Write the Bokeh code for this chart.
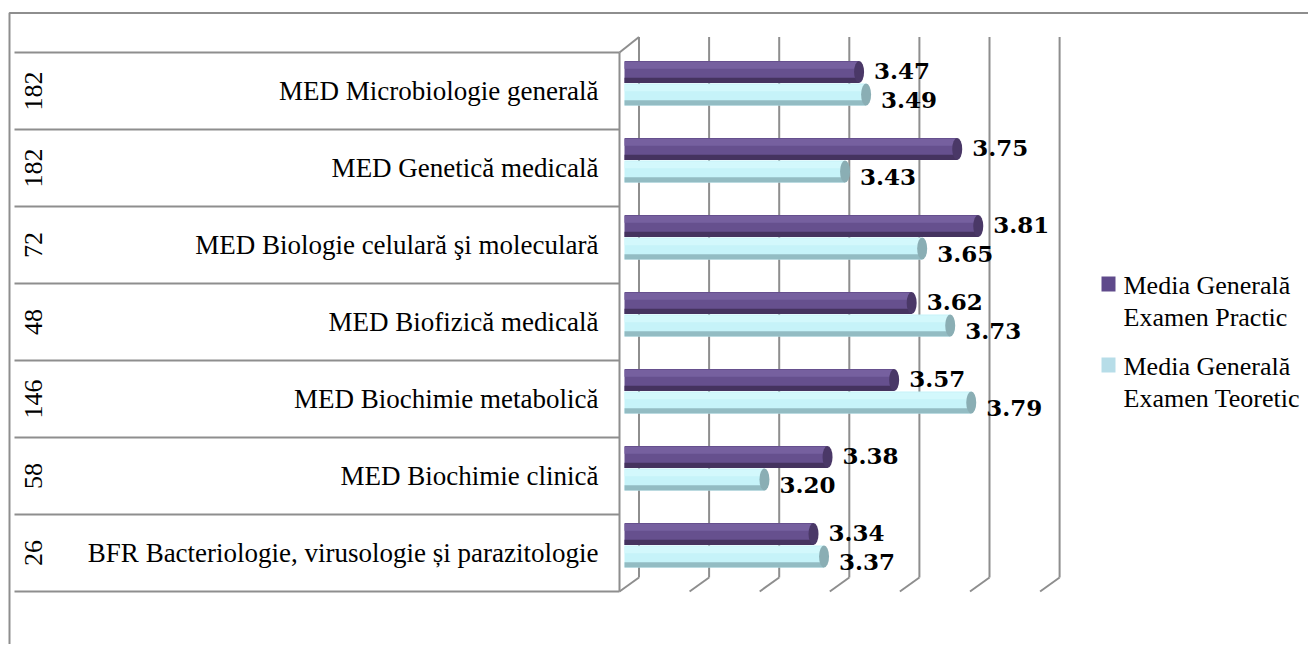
from bokeh.plotting import figure
from bokeh.models import Range1d
from bokeh.core.properties import value
from bokeh.embed import file_html
from bokeh.resources import INLINE

# ---------------- data ----------------
categories = [
    "MED Microbiologie generală",
    "MED Genetică medicală",
    "MED Biologie celulară şi moleculară",
    "MED Biofizică medicală",
    "MED Biochimie metabolică",
    "MED Biochimie clinică",
    "BFR Bacteriologie, virusologie și parazitologie",
]
counts = ["182", "182", "72", "48", "146", "58", "26"]
practic = [3.47, 3.75, 3.81, 3.62, 3.57, 3.38, 3.34]
teoretic = [3.49, 3.43, 3.65, 3.73, 3.79, 3.20, 3.37]
series_names = ["Media Generală\nExamen Practic", "Media Generală\nExamen Teoretic"]
axis_ticks = [2.8, 3.0, 3.2, 3.4, 3.6, 3.8, 4.0]

# ---------------- layout helpers (page pixels -> data units) ----------------
W, H = 1308, 644
OFF = 0
AX_MIN = axis_ticks[0]
X0_PX = 619.0          # page x of axis minimum (front plane)
PPU = 350.5            # pixels per value unit
ROW0_PX = 90.5         # page y of first row centre
ROW_H = 77.0
n = len(categories)


def xr(px):
    return AX_MIN + (px - X0_PX) / PPU


def dxp(px):
    return px / PPU


def yp(py):
    return (ROW0_PX + (n - 1) * ROW_H - py) / ROW_H


def dyp(py):
    return py / ROW_H


p = figure(width=W, height=H, output_backend="svg", toolbar_location=None,
           x_range=Range1d(xr(OFF), xr(OFF + W)),
           y_range=Range1d(yp(OFF + H), yp(OFF)),
           x_axis_location=None, y_axis_location=None,
           min_border=0, min_border_left=0, min_border_right=0,
           min_border_top=0, min_border_bottom=0)
p.outline_line_color = None
p.xgrid.visible = False
p.ygrid.visible = False
p.background_fill_color = "white"
p.border_fill_color = "white"

GRID = "#8e8e8e"
ys = [n - 1 - i for i in range(n)]

# outer chart border (top + left)
p.line([xr(9), xr(9), xr(OFF + W)], [yp(OFF + H), yp(12.5), yp(12.5)],
       line_color=GRID, line_width=2)

# back wall gridlines + floor diagonals
DXB = dxp(19.5)
ytop_back = yp(36.5)
ybot_back = yp(577)
ybot_front = yp(591)
ytop_front = yp(52)
gx = [t + DXB for t in axis_ticks]
p.segment(x0=gx, y0=[ytop_back] * len(gx), x1=gx, y1=[ybot_back] * len(gx),
          line_color=GRID, line_width=2)
p.segment(x0=gx, y0=[ybot_back] * len(gx), x1=axis_ticks, y1=[ybot_front] * len(gx),
          line_color=GRID, line_width=2)
# side wall top diagonal and front edge
p.segment(x0=[AX_MIN], y0=[ytop_front], x1=[AX_MIN + DXB], y1=[ytop_back],
          line_color=GRID, line_width=2)
p.segment(x0=[AX_MIN], y0=[ytop_front], x1=[AX_MIN], y1=[ybot_front],
          line_color=GRID, line_width=2)

# table rows
bounds = [k + 0.5 for k in range(-1, n)]
p.segment(x0=[xr(14)] * len(bounds), y0=bounds, x1=[AX_MIN] * len(bounds), y1=bounds,
          line_color=GRID, line_width=2)

# category labels and counts
p.text(x=[xr(598)] * n, y=ys, text=categories, text_align="right",
       text_baseline="middle", text_font=value("Liberation Serif"),
       text_font_size="27px", text_color="black")
p.text(x=[xr(33)] * n, y=ys, text=counts, angle=1.5707963, text_align="center",
       text_baseline="middle", text_font=value("Liberation Serif"),
       text_font_size="26px", text_color="black")

# bars (cylinders)
BAR_H = dyp(22)
START = AX_MIN + dxp(5)
MID = dxp(9.75)
CAPW = dxp(10)


def cylinder(vals, yoff, body, light, dark, cap):
    ends = [v + MID for v in vals]
    yc = [y + yoff for y in ys]
    rights = [e - CAPW / 2 for e in ends]
    p.hbar(y=yc, left=START, right=rights, height=BAR_H, fill_color=body, line_color=None)
    p.hbar(y=[y + BAR_H * 0.3 for y in yc], left=START, right=rights, height=BAR_H * 0.3,
           fill_color=light, line_color=None)
    p.hbar(y=[y - BAR_H * 0.38 for y in yc], left=START, right=rights, height=BAR_H * 0.24,
           fill_color=dark, line_color=None)
    p.ellipse(x=rights, y=yc, width=CAPW, height=BAR_H, fill_color=cap, line_color=None)
    return ends, yc


pe, pyc = cylinder(practic, dyp(19), "#66508e", "#76609f", "#45335f", "#4a3867")
te, tyc = cylinder(teoretic, dyp(-3.5), "#c6f3f9", "#d3f8fc", "#93bcc3", "#8aaeb4")

# value labels
LBL = dict(text_align="left", text_baseline="middle",
           text_font=value("DejaVu Serif"), text_font_style="bold",
           text_font_size="23px", text_color="black")
p.text(x=[e + dxp(10) for e in pe], y=[y + dyp(1) for y in pyc],
       text=[f"{v:.2f}" for v in practic], **LBL)
p.text(x=[e + dxp(10) for e in te], y=[y - dyp(5) for y in tyc],
       text=[f"{v:.2f}" for v in teoretic], **LBL)

# legend
leg_colors = ["#5f4a8b", "#b7dde8"]
leg_top = [276, 357]
p.rect(x=[xr(1108)] * 2, y=[yp(t + 7.5) for t in leg_top], width=dxp(14), height=dyp(15),
       fill_color=leg_colors, line_color=None)
p.text(x=[xr(1123)] * 2, y=[yp(t - 6) for t in leg_top], text=series_names,
       text_align="left", text_baseline="top", text_font=value("Liberation Serif"),
       text_font_size="26px", text_line_height=1.12, text_color="black")

open("out.html", "w").write(file_html(p, INLINE))
